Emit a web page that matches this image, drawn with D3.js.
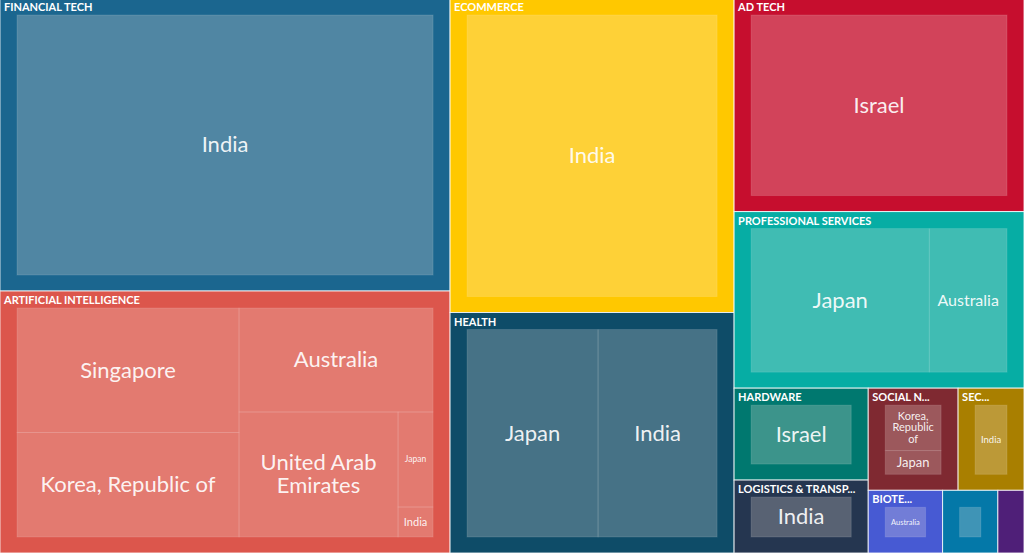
<!DOCTYPE html>
<html>
<head>
<meta charset="utf-8">
<script src="https://cdn.jsdelivr.net/npm/d3@7"></script>
<style>
  html, body { margin: 0; padding: 0; background: #fff; overflow: hidden; }
  svg { display: block; font-family: "Lato", "Noto Sans", sans-serif; }
</style>
</head>
<body>
<div id="chart"></div>
<script>
// values (tile areas)
const categories = ['FINANCIAL TECH', 'ARTIFICIAL INTELLIGENCE', 'ECOMMERCE', 'HEALTH', 'AD TECH',
  'PROFESSIONAL SERVICES', 'HARDWARE', 'LOGISTICS & TRANSP...', 'SOCIAL N...', 'SEC...', 'BIOTE...', '', ''];

const countries = [
  ['India'],
  ['Singapore', 'Korea, Republic of', 'Australia', 'United Arab Emirates', 'Japan', 'India'],
  ['India'],
  ['Japan', 'India'],
  ['Israel'],
  ['Japan', 'Australia'],
  ['Israel'],
  ['India'],
  ['Korea, Republic of', 'Japan'],
  ['India'],
  ['Australia'],
  [''],
  ['']
];

const amounts = [
  [131868],
  [34200, 28717, 24970, 24597, 4115, 1300],
  [89323],
  [35788, 32509],
  [61915],
  [35649, 15536],
  [12328],
  [9782],
  [6031, 3149],
  [6732],
  [4662],
  [3465],
  [1638]
];

const colors = ['#1b668f', '#dc564c', '#ffc800', '#0e4c68', '#c60e2e', '#06ada4', '#00786f',
  '#253650', '#7f2931', '#a97f00', '#475ad3', '#0478a8', '#4f1f78'];

const w = 1024;
const h = 553;

const root = d3.hierarchy({
  children: categories.map((name, i) => ({
    name: name,
    color: colors[i],
    children: countries[i].map((c, j) => ({ name: c, value: amounts[i][j] }))
  }))
}).sum(d => d.value).sort((a, b) => b.value - a.value);

d3.treemap()
  .tile(d3.treemapSquarify.ratio(1.065))
  .size([w, h + 2])
  .paddingTop(d => d.depth === 0 ? 0 : 17)
  .paddingBottom(d => d.depth === 0 ? 0 : 16)
  .paddingLeft(d => d.depth === 0 ? 0 : 17)
  .paddingRight(d => d.depth === 0 ? 0 : 17)(root);

const svg = d3.select('#chart')
  .append('svg')
  .attr('width', w)
  .attr('height', h);

const chart = svg.append('g').attr('transform', 'translate(0, -2)');

const groups = chart.selectAll('g.category')
  .data(root.children)
  .enter()
  .append('g')
  .attr('class', 'category');

groups.append('rect')
  .attr('x', d => d.x0)
  .attr('y', d => d.y0)
  .attr('width', d => d.x1 - d.x0)
  .attr('height', d => d.y1 - d.y0)
  .attr('fill', d => d.data.color)
  .attr('stroke', '#fff')
  .attr('stroke-opacity', 0.8);

groups.append('text')
  .text(d => d.data.name)
  .attr('x', d => d.x0 + 4)
  .attr('y', d => d.y0 + 13)
  .attr('fill', '#fff')
  .attr('font-size', 11)
  .attr('font-weight', 700);

// smaller tiles get smaller type, everything else is 22px
const smallType = {
  'ARTIFICIAL INTELLIGENCE/Japan': 8.5,
  'ARTIFICIAL INTELLIGENCE/India': 11,
  'PROFESSIONAL SERVICES/Australia': 16,
  'SOCIAL N.../Korea, Republic of': 11,
  'SOCIAL N.../Japan': 13,
  'SEC.../India': 9.5,
  'BIOTE.../Australia': 7.5
};

const fontSize = d => smallType[d.parent.data.name + '/' + d.data.name] || 22;

const leaves = chart.selectAll('g.leaf')
  .data(root.leaves())
  .enter()
  .append('g')
  .attr('class', 'leaf');

leaves.append('rect')
  .attr('x', d => d.x0)
  .attr('y', d => d.y0)
  .attr('width', d => Math.max(0, d.x1 - d.x0))
  .attr('height', d => Math.max(0, d.y1 - d.y0))
  .attr('fill', '#fbeee8')
  .attr('fill-opacity', 0.24)
  .attr('stroke', '#fff')
  .attr('stroke-opacity', 0.12);

leaves.append('text')
  .attr('fill', '#fff')
  .attr('fill-opacity', 0.92)
  .attr('text-anchor', 'middle')
  .attr('font-size', fontSize)
  .each(function(d) {
    const text = d3.select(this);
    const size = fontSize(d);
    const maxWidth = d.x1 - d.x0 - 4;
    const cx = (d.x0 + d.x1) / 2;

    // greedy wrap on spaces
    const lines = [];
    let line = '';
    d.data.name.split(' ').forEach(word => {
      const attempt = line ? line + ' ' + word : word;
      text.text(attempt);
      if (line && this.getComputedTextLength() > maxWidth) {
        lines.push(line);
        line = word;
      } else {
        line = attempt;
      }
    });
    lines.push(line);
    text.text(null);

    const lineHeight = size * 1.05;
    const top = (d.y0 + d.y1) / 2 - (lines.length - 1) * lineHeight / 2 + size * 0.33;
    lines.forEach((l, i) => {
      text.append('tspan')
        .attr('x', cx)
        .attr('y', top + i * lineHeight)
        .text(l);
    });
  });
</script>
</body>
</html>
